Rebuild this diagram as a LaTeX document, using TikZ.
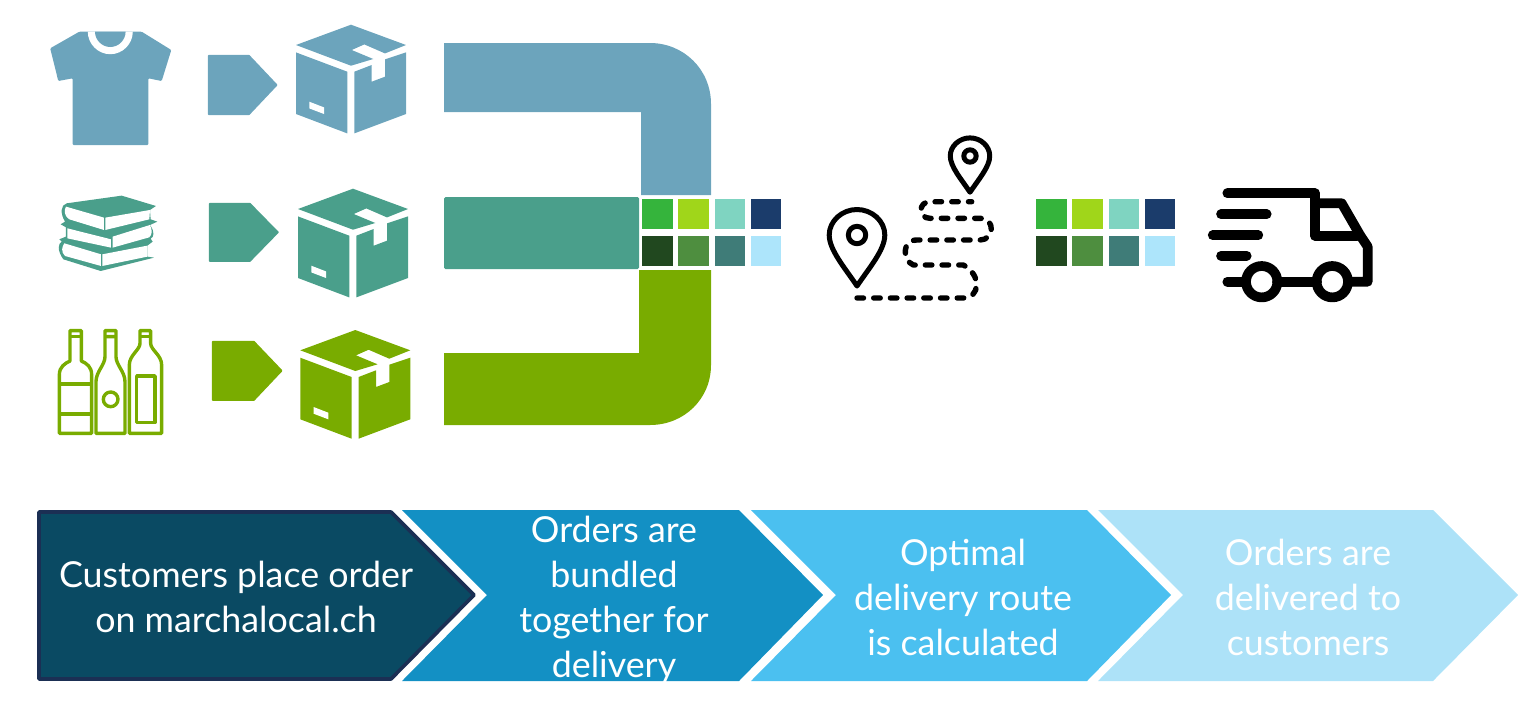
\documentclass[tikz,border=0pt]{standalone}
\usepackage{fontspec}
\setmainfont{Lato}
\usepackage{xcolor}
\usetikzlibrary{
  positioning,
  calc
}
\definecolor{bandblue}{RGB}{108, 164, 188}
\definecolor{bandteal}{RGB}{74, 159, 139}
\definecolor{bandgreen}{RGB}{121, 172, 0}
\definecolor{stepdark}{RGB}{10, 74, 99}
\definecolor{stepline}{RGB}{27, 47, 84}
\definecolor{stepmid}{RGB}{19, 144, 196}
\definecolor{stepsky}{RGB}{75, 192, 240}
\definecolor{steppale}{RGB}{173, 226, 248}
\definecolor{swa}{RGB}{53, 180, 60}
\definecolor{swb}{RGB}{160, 214, 26}
\definecolor{swc}{RGB}{127, 212, 193}
\definecolor{swd}{RGB}{27, 60, 107}
\definecolor{swe}{RGB}{33, 72, 31}
\definecolor{swf}{RGB}{78, 142, 63}
\definecolor{swg}{RGB}{63, 124, 120}
\definecolor{swh}{RGB}{173, 229, 251}
\tikzset{
  steplbl/.style = {
    text=white, align=center, inner sep=0pt,
    font=\fontsize{35.8}{45}\selectfont
  },
  tagmark/.style = {fill=#1, draw=#1, line width=1.5pt, line join=round},
  inkline/.style = {draw=black, line width=#1, line cap=round, line join=round},
  inkline/.default = 5pt,
  bottleline/.style = {draw=bandgreen, line width=3.4pt, line join=round},
  parcel/.pic = {
    \fill[#1] (0,0) -- (55,20.3) -- (34,28.7) -- (13.3,19.7) -- (0.7,25.3)
      -- (22.3,34.3) -- (0,41) -- (-55,20.3) -- cycle;
    \fill[#1] (-55,27.7) -- (-3.7,47) -- (-3.7,108.7) -- (-55,89.3) -- cycle;
    \fill[white] (-41.7,77) -- (-27,82.7) -- (-27,89.3) -- (-41.7,83.7) -- cycle;
    \fill[#1] (3.3,47) -- (20.7,40.3) -- (20.7,57) -- (34,52) -- (34,34.7)
      -- (55,27.7) -- (55,89.3) -- (3.3,108.7) -- cycle;
  },
  swatches/.pic = {
    \foreach \col/\row/\shade in {0/0/swa, 1/0/swb, 2/0/swc, 3/0/swd,
                                  0/1/swe, 1/1/swf, 2/1/swg, 3/1/swh}
      \fill[\shade] ({\col*36.3},{\row*36.5}) rectangle ++(30.5,30.3);
  },
  pinmark/.pic = {
    \draw[inkline] (0,51) .. controls (-12,33) and (-27.8,15) .. (-27.8,0)
      .. controls (-27.8,-14) and (-15,-25.5) .. (0,-25.5)
      .. controls (15,-25.5) and (27.8,-14) .. (27.8,0)
      .. controls (27.8,15) and (12,33) .. (0,51) -- cycle;
    \draw[inkline] (0,0) circle (8.7);
  },
}

\begin{document}
\begin{tikzpicture}[x=1pt, y=-1pt]
  \useasboundingbox (0,0) rectangle (1530,713);

  %% ── Shirt row ──────────────────────────────────────────────────────────
  \fill[bandblue, rounded corners=1pt] (79.3,31.7) -- (50.2,48.3) -- (58.3,81)
    -- (72.7,78.3) -- (72.7,145) -- (148.3,145) -- (148.3,78.3) -- (161.7,81)
    -- (171.3,50) -- (141.7,31.7) -- cycle;
  \fill[white] (87.8,31.7) .. controls (87.8,44) and (98,54.2) .. (110.3,54.2)
    .. controls (122.6,54.2) and (132.8,44) .. (132.8,31.7) -- cycle;
  \fill[bandblue] (95,31.7) .. controls (95,40) and (102,47) .. (110.3,47)
    .. controls (118.6,47) and (125.6,40) .. (125.6,31.7) -- cycle;
  \filldraw[tagmark=bandblue] (208.7,55.7) -- (249,55.7) -- (276.7,85) -- (249,114.3)
    -- (208.7,114.3) -- cycle;
  \pic at (351,24.7) {parcel=bandblue};

  %% ── Book row ───────────────────────────────────────────────────────────
  \begin{scope}[shift={(30,10)}, scale=0.3333]
    \fill[bandteal] (110,580) -- (275,557) -- (378,588) -- (360,600) -- (362,628)
      -- (382,635) -- (360,645) .. controls (375,665) and (372,682) .. (362,686)
      -- (368,695) -- (352,707) -- (352,740) -- (372,743) -- (212,783) -- (100,748)
      .. controls (80,720) and (85,700) .. (95,695) -- (88,688) -- (108,680)
      -- (108,652) -- (92,643) -- (105,635) .. controls (90,610) and (92,585) .. (110,580)
      -- cycle;
    \fill[white] (108,590) -- (222,623) -- (222,660) -- (118,628)
      .. controls (100,615) and (103,600) .. (108,590) -- cycle;
    \fill[white] (226,623) -- (360,600) -- (358,628) -- (226,660) -- cycle;
    \fill[white] (112,655) -- (243,688) -- (243,713) -- (112,685) -- cycle;
    \fill[white] (248,680) -- (360,645) .. controls (368,660) and (366,675) .. (358,682)
      -- (248,713) -- cycle;
    \fill[white] (103,700) -- (213,733) -- (213,768) -- (105,738)
      .. controls (92,725) and (96,710) .. (103,700) -- cycle;
    \fill[white] (217,733) -- (352,707) -- (352,740) -- (217,768) -- cycle;
  \end{scope}
  \filldraw[tagmark=bandteal] (209.7,203.7) -- (250,203.7) -- (278,232.3) -- (250,261)
    -- (209.7,261) -- cycle;
  \pic at (353,188.7) {parcel=bandteal};

  %% ── Bottle row ─────────────────────────────────────────────────────────
  \begin{scope}[shift={(30,300)}, scale=0.3333]
    \draw[bottleline] (88,400) -- (88,225) .. controls (88,200) and (105,190) .. (120,183)
      -- (120,92) -- (154,92) -- (154,183) .. controls (170,190) and (185,200) .. (185,225)
      -- (185,400) -- cycle;
    \draw[bottleline] (120,110) -- (154,110) (88,252) -- (185,252) (88,342) -- (185,342);
    \draw[bottleline] (198,400) -- (198,245) .. controls (198,215) and (225,195) .. (225,170)
      -- (225,92) -- (258,92) -- (258,170) .. controls (258,195) and (285,215) .. (285,245)
      -- (285,400) -- cycle;
    \draw[bottleline] (225,110) -- (258,110) (242,298) circle (22);
    \draw[bottleline] (298,400) -- (298,195) .. controls (298,165) and (330,150) .. (330,130)
      -- (330,92) -- (362,92) -- (362,130) .. controls (362,150) and (395,165) .. (395,195)
      -- (395,400) -- cycle;
    \draw[bottleline] (330,110) -- (362,110) (320,228) rectangle (375,368);
  \end{scope}
  \filldraw[tagmark=bandgreen] (212.7,341.7) -- (254,341.7) -- (281.7,370.7) -- (254,400)
    -- (212.7,400) -- cycle;
  \pic at (355.3,330) {parcel=bandgreen};

  %% ── Bands ──────────────────────────────────────────────────────────────
  \fill[bandblue] (444,43) -- (650,43) .. controls (683.6,43) and (711,69.4) .. (711,104)
    -- (711,195) -- (641,195) -- (641,112) -- (444,112) -- cycle;
  \fill[bandteal, rounded corners=1.5pt] (444,197) rectangle (639,269);
  \fill[bandgreen] (444,353) -- (639,353) -- (639,270) -- (711,270) -- (711,365)
    .. controls (711,399) and (684,425) .. (650,425) -- (444,425) -- cycle;

  %% ── Swatches ───────────────────────────────────────────────────────────
  \pic at (642,199) {swatches};
  \pic at (1036,199) {swatches};

  %% ── Route ──────────────────────────────────────────────────────────────
  \pic at (857,235) {pinmark};
  \pic[scale=0.71] at (970,156) {pinmark};
  \draw[inkline=5.4pt, dash pattern=on 6.5pt off 10.2pt] (857,298) -- (963.3,298)
    .. controls (980,298) and (982,275) .. (963.3,265) -- (913.3,265)
    .. controls (902,260) and (902,240) .. (916.7,240) -- (980,240)
    .. controls (994,240) and (996,218.3) .. (980,218.3) -- (930,218.3)
    .. controls (918,218.3) and (918,201.7) .. (930,201.7) -- (971.7,201.7);

  %% ── Truck ──────────────────────────────────────────────────────────────
  \draw[inkline=9.7pt] (1227.3,193.3) -- (1315,193.3) -- (1315,235.7) -- (1357,235.7);
  \draw[inkline=9.7pt] (1315,203.3) -- (1341.7,203.3) -- (1360,235) -- (1367.7,246.7)
    -- (1367.7,281.7) -- (1348,281.7);
  \draw[inkline=9.7pt] (1227.3,281.7) -- (1246,281.7) (1277,281.7) -- (1317,281.7);
  \draw[inkline=9.7pt] (1261.7,281.7) circle (15.7) (1332.3,281.7) circle (15.7);
  \draw[inkline=9.7pt] (1221,214.3) -- (1266.7,214.3) (1212.7,235.3) -- (1258.3,235.3)
    (1221,255.7) -- (1246.7,255.7);

  %% ── Steps ──────────────────────────────────────────────────────────────
  \filldraw[fill=stepdark, draw=stepline, line width=3.6pt, line join=round]
    (39,512) -- (391,512) -- (474,595) -- (391,679) -- (39,679) -- cycle;
  \fill[stepmid] (402,510) -- (739,510) -- (823,595) -- (739,681) -- (402,681)
    -- (487,595) -- cycle;
  \fill[stepsky] (751,510) -- (1087,510) -- (1171,595) -- (1087,681) -- (751,681)
    -- (836,595) -- cycle;
  \fill[steppale] (1098,510) -- (1433,510) -- (1518,595) -- (1433,681) -- (1098,681)
    -- (1183,595) -- cycle;

  \node[steplbl] (order) at (236,597) {Customers place order\\on marchalocal.ch};
  \node[steplbl] (bundle) at (614,599.5) {Orders are\\bundled\\together for\\delivery};
  \node[steplbl] (optimal) at (963,597) {Optimal\\delivery route\\is calculated};
  \node[steplbl] (deliver) at (1308,597) {Orders are\\delivered to\\customers};

\end{tikzpicture}
\end{document}
